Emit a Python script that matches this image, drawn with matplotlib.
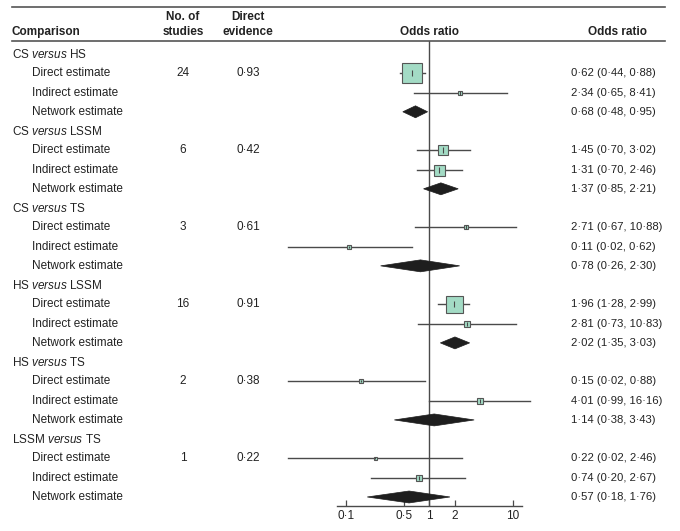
import matplotlib
matplotlib.use("Agg")
import matplotlib.pyplot as plt
import matplotlib.transforms as mtransforms
from matplotlib.patches import Polygon

# ── data ────────────────────────────────────────────────────────
groups = ["CS versus HS", "CS versus LSSM", "CS versus TS",
          "HS versus LSSM", "HS versus TS", "LSSM versus TS"]
n_studies = ["24", "6", "3", "16", "2", "1"]
direct_evidence = ["0·93", "0·42", "0·61", "0·91", "0·38", "0·22"]

# (estimate, lower, upper) for direct, indirect, network
direct_or = [(0.62, 0.44, 0.88), (1.45, 0.70, 3.02), (2.71, 0.67, 10.88),
             (1.96, 1.28, 2.99), (0.15, 0.02, 0.88), (0.22, 0.02, 2.46)]
indirect_or = [(2.34, 0.65, 8.41), (1.31, 0.70, 2.46), (0.11, 0.02, 0.62),
               (2.81, 0.73, 10.83), (4.01, 0.99, 16.16), (0.74, 0.20, 2.67)]
network_or = [(0.68, 0.48, 0.95), (1.37, 0.85, 2.21), (0.78, 0.26, 2.30),
              (2.02, 1.35, 3.03), (1.14, 0.38, 3.43), (0.57, 0.18, 1.76)]

# relative weights (square side, px)
direct_w = [20, 10, 5, 17, 4, 3]
indirect_w = [5, 11, 4, 6, 6, 6]

row_kinds = ["Direct estimate", "Indirect estimate", "Network estimate"]
tick_vals = [0.1, 0.5, 1, 2, 10]
tick_labels = ["0·1", "0·5", "1", "2", "10"]

# ── style ───────────────────────────────────────────────────────
FS = 8.5
plt.rcParams.update({
    "font.family": "Liberation Sans",
    "font.size": FS,
    "mathtext.fontset": "custom",
    "mathtext.rm": "Liberation Sans",
    "mathtext.it": "Liberation Sans:italic",
})
SQ_COLOR = "#a3dbc5"
EDGE = "#555555"
LINE = "#4a4a4a"
DIAMOND = "#1e1e1e"
TXT = "#222222"

W, H = 680, 531
fig = plt.figure(figsize=(6.8, 5.31), dpi=100)

# forest axes (pixel layout)
ax_l, ax_r, ax_top, ax_bot = 280, 545, 41, 506
ax = fig.add_axes([ax_l / W, 1 - ax_bot / H, (ax_r - ax_l) / W, (ax_bot - ax_top) / H])
ax.set_xscale("log")
ax.set_xlim(0.01622, 24.2)
row0, dy = 54, 19.26
ax.set_ylim((ax_bot - row0) / dy, (ax_top - row0) / dy)
ax.patch.set_visible(False)
for s in ["top", "left", "right"]:
    ax.spines[s].set_visible(False)
ax.spines["bottom"].set_bounds(0.078, 12.8)
ax.spines["bottom"].set_color(LINE)
ax.spines["bottom"].set_linewidth(1.0)
ax.set_yticks([])
ax.set_xticks(tick_vals)
ax.set_xticklabels(tick_labels)
ax.xaxis.set_minor_locator(matplotlib.ticker.NullLocator())
ax.tick_params(axis="x", direction="in", length=4, width=0.9, color=LINE,
               pad=3, labelsize=FS, labelcolor=TXT)

ax.axvline(1, color=LINE, lw=1.0, zorder=1)

fig_y = mtransforms.blended_transform_factory(fig.transFigure, ax.transData)
fig_x = lambda px: px / W

def px2pt(px):
    return px * 0.72

for g in range(len(groups)):
    base = g * 4
    a, b, c = groups[g].split(" ")
    fig.text(fig_x(12), base, f"{a} $\\it{{{b}}}$ {c}", transform=fig_y,
             va="center", ha="left", color=TXT)
    for k, kind in enumerate(row_kinds):
        y = base + 1 + k
        ax.text(fig_x(32), y, kind, transform=fig_y, va="center", ha="left", color=TXT)
    ax.text(fig_x(183), base + 1, n_studies[g], transform=fig_y, va="center",
            ha="center", color=TXT)
    ax.text(fig_x(248), base + 1, direct_evidence[g], transform=fig_y, va="center",
            ha="center", color=TXT)

    for k, (est, lo, hi) in enumerate([direct_or[g], indirect_or[g], network_or[g]]):
        y = base + 1 + k
        ax.text(fig_x(571), y, f"{est:.2f} ({lo:.2f}, {hi:.2f})".replace(".", "·"),
                transform=fig_y, va="center", ha="left", color=TXT, fontsize=8.1)
        if k < 2:
            w = [direct_w, indirect_w][k][g]
            ax.plot([lo, hi], [y, y], color=LINE, lw=1.0, zorder=2)
            ax.plot([est], [y], marker="s", ms=px2pt(w), mfc=SQ_COLOR, mec=EDGE,
                    mew=0.8, zorder=3)
            ax.plot([est], [y], marker="|", ms=px2pt(min(w * 0.45, 5) + 1),
                    mec=LINE, mew=0.8, zorder=4)
        else:
            h = 0.31
            ax.add_patch(Polygon([(lo, y), (est, y - h), (hi, y), (est, y + h)],
                                 closed=True, fc=DIAMOND, ec=DIAMOND, lw=0.5, zorder=3))

# header
hdr_y1, hdr_y2 = 17, 32
fig.text(fig_x(12), 1 - hdr_y2 / H, "Comparison", weight="bold", va="center", color=TXT)
fig.text(fig_x(183), 1 - hdr_y1 / H, "No. of", weight="bold", va="center", ha="center", color=TXT)
fig.text(fig_x(183), 1 - hdr_y2 / H, "studies", weight="bold", va="center", ha="center", color=TXT)
fig.text(fig_x(248), 1 - hdr_y1 / H, "Direct", weight="bold", va="center", ha="center", color=TXT)
fig.text(fig_x(248), 1 - hdr_y2 / H, "evidence", weight="bold", va="center", ha="center", color=TXT)
fig.text(fig_x(429), 1 - hdr_y2 / H, "Odds ratio", weight="bold", va="center", ha="center", color=TXT)
fig.text(fig_x(647), 1 - hdr_y2 / H, "Odds ratio", weight="bold", va="center", ha="right", color=TXT)

for yl in [7, 41]:
    fig.add_artist(plt.Line2D([12 / W, 665 / W], [1 - yl / H, 1 - yl / H],
                              color="#555555", lw=1.2))

fig.savefig("out.png", dpi=100, facecolor="white")
